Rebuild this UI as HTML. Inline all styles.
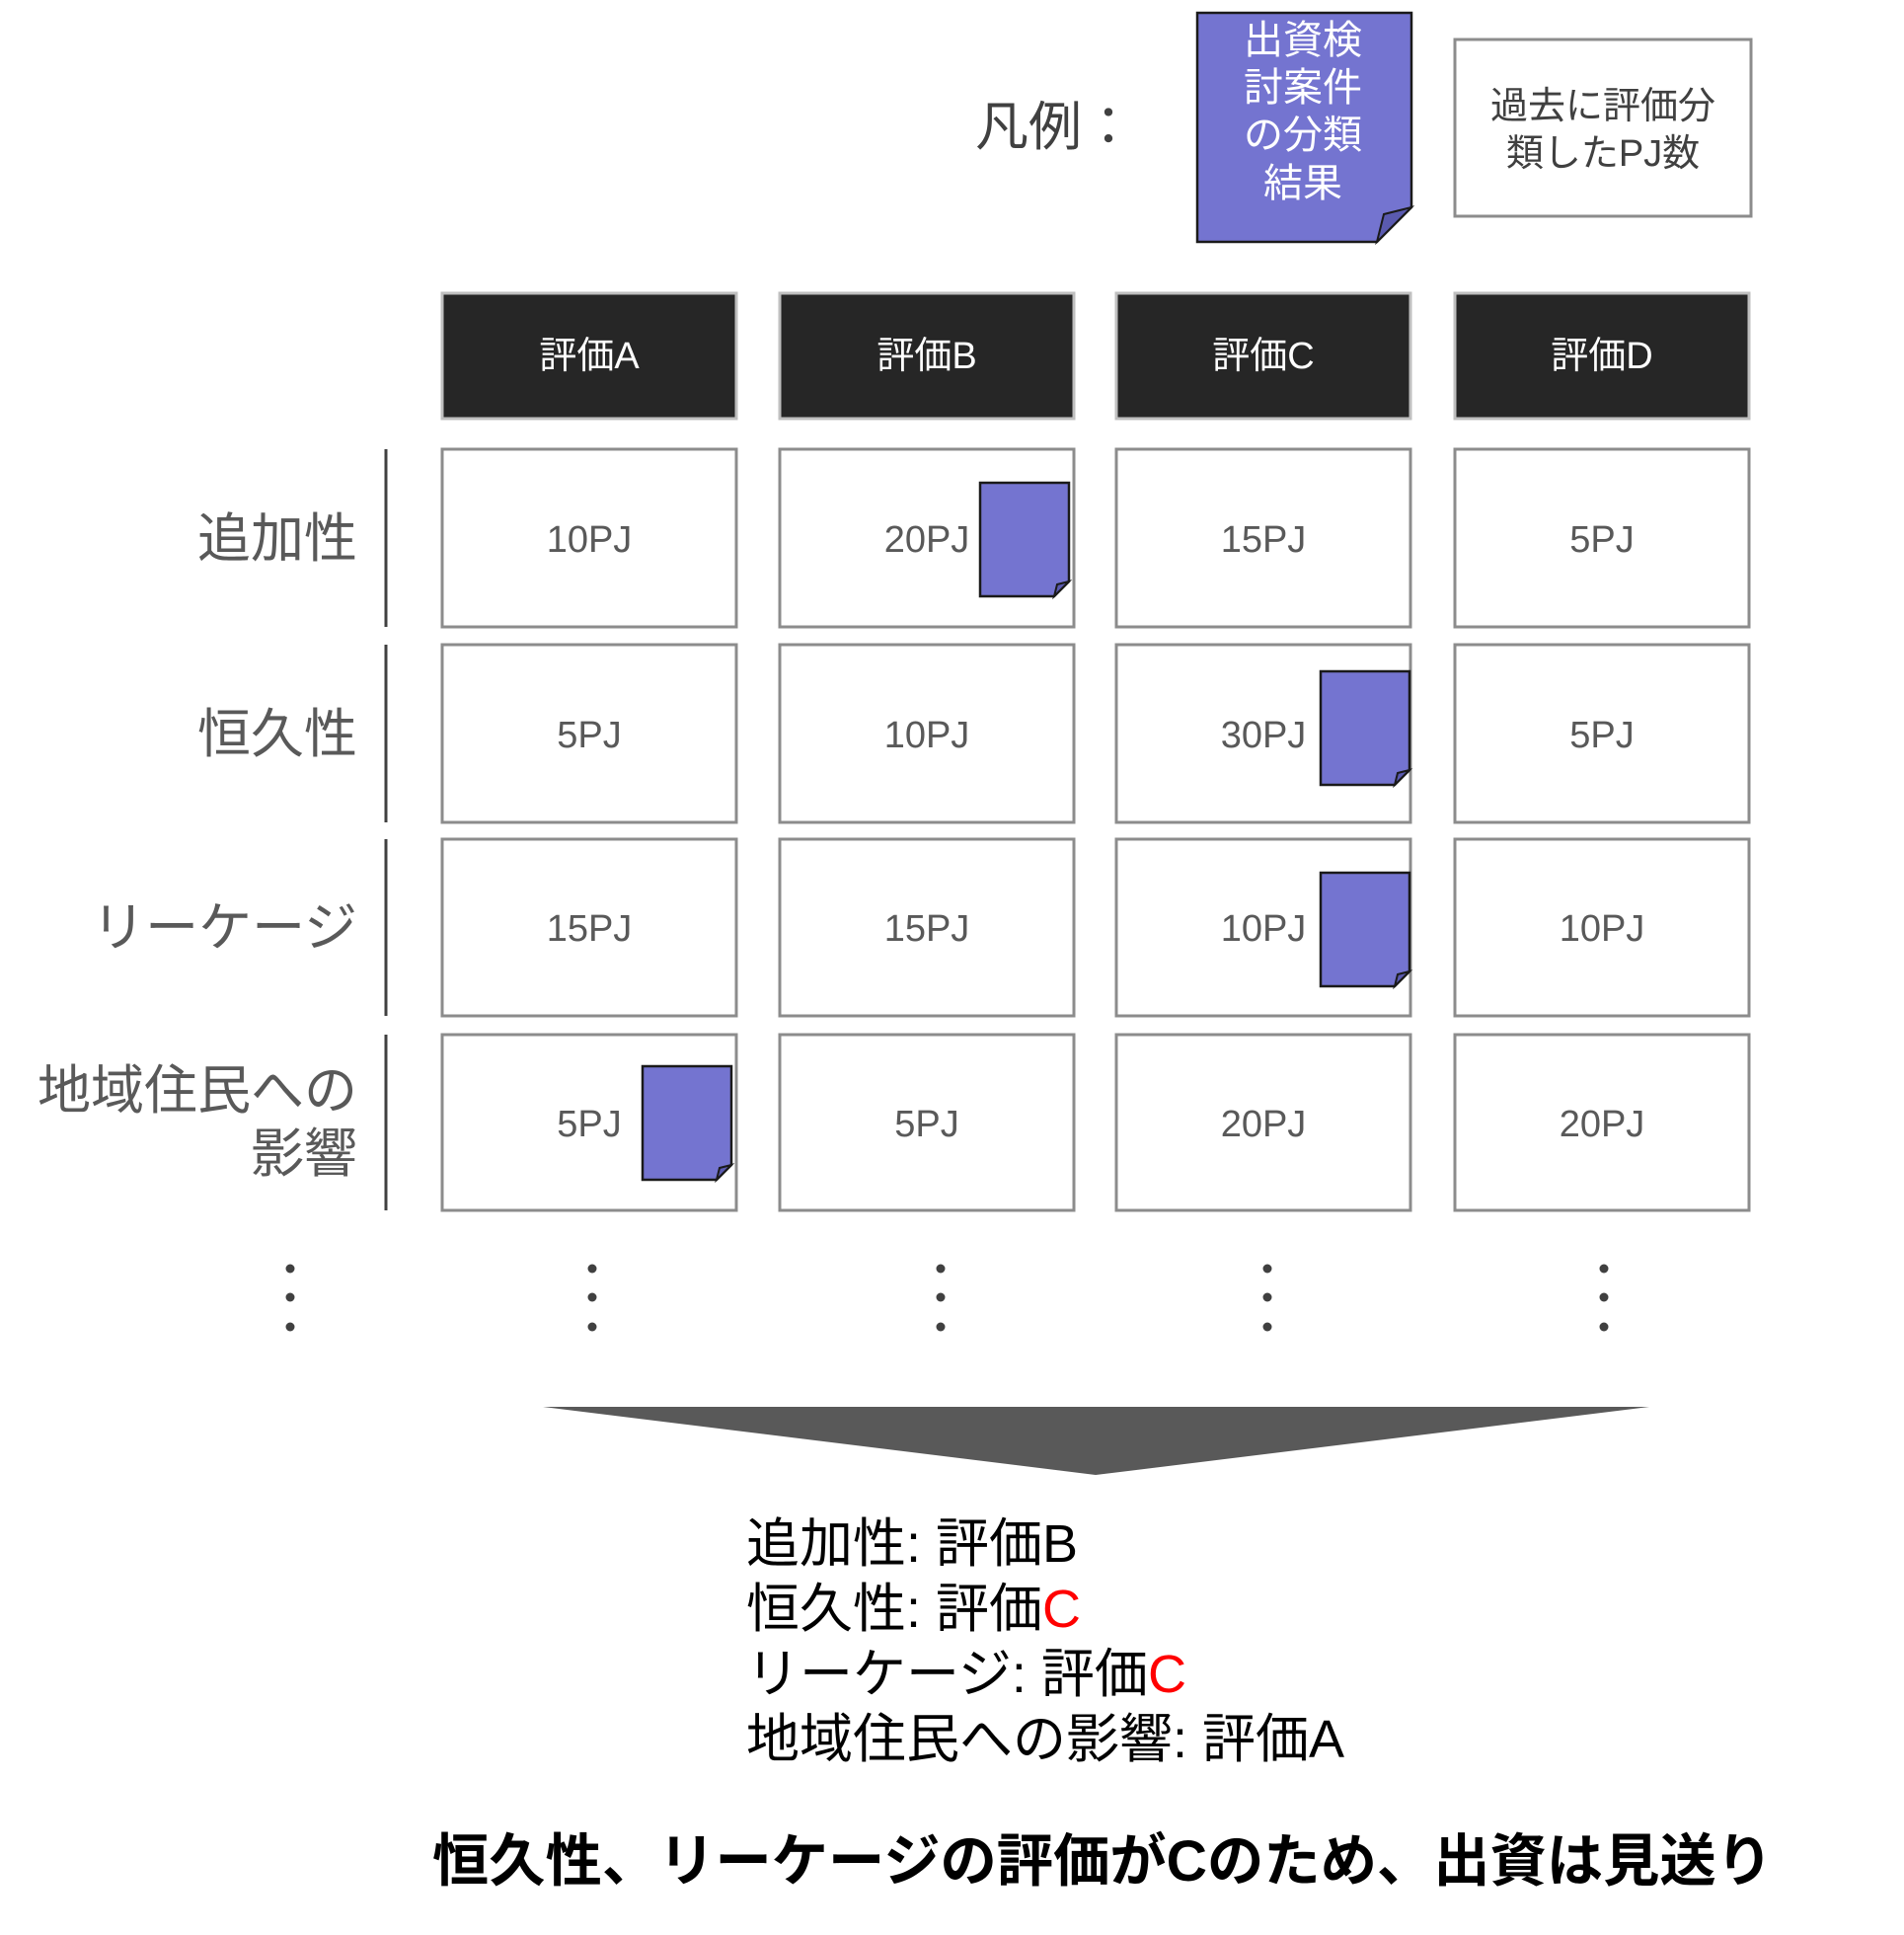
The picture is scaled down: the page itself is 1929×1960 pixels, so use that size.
<!DOCTYPE html>
<html><head><meta charset="utf-8"><style>
html,body{margin:0;padding:0;background:#fff;}
svg{display:block}
text{font-family:"Liberation Sans","Noto Sans CJK JP",sans-serif;}
</style></head><body>
<svg width="1929" height="1960" viewBox="0 0 1929 1960" xmlns="http://www.w3.org/2000/svg">
<defs>
<g id="doc">
<path d="M0,0 H90 V100 L75,115 H0 Z" fill="#7474D0" stroke="#1a1a1a" stroke-width="2.5"/>
<path d="M75,115 L78,103 L90,100 Z" fill="#5a5ab0" stroke="#1a1a1a" stroke-width="2"/>
</g>
</defs>
<!-- legend -->
<text x="988" y="147" font-size="54" fill="#404040">凡例：</text>
<path d="M1213,13 H1430 V210 L1395,245 H1213 Z" fill="#7474D0" stroke="#1a1a1a" stroke-width="2.5"/>
<path d="M1395,245 L1402,217 L1430,210 Z" fill="#5a5ab0" stroke="#1a1a1a" stroke-width="2"/>
<g fill="#fff" font-size="40" text-anchor="middle">
<text x="1320" y="54">出資検</text>
<text x="1320" y="102">討案件</text>
<text x="1320" y="150">の分類</text>
<text x="1320" y="199">結果</text>
</g>
<rect x="1474" y="40" width="300" height="179" fill="#fff" stroke="#8c8c8c" stroke-width="3"/>
<g fill="#404040" font-size="38" text-anchor="middle">
<text x="1624" y="120">過去に評価分</text>
<text x="1624" y="168">類したPJ数</text>
</g>
<!-- headers -->
<g fill="#262626" stroke="#bfbfbf" stroke-width="3">
<rect x="448" y="297" width="298" height="127"/>
<rect x="790" y="297" width="298" height="127"/>
<rect x="1131" y="297" width="298" height="127"/>
<rect x="1474" y="297" width="298" height="127"/>
</g>
<g fill="#fff" font-size="38" text-anchor="middle">
<text x="597" y="373">評価A</text>
<text x="939" y="373">評価B</text>
<text x="1280" y="373">評価C</text>
<text x="1623" y="373">評価D</text>
</g>
<!-- cells -->
<g fill="#fff" stroke="#8c8c8c" stroke-width="3">
<rect x="448" y="455" width="298" height="180"/><rect x="790" y="455" width="298" height="180"/><rect x="1131" y="455" width="298" height="180"/><rect x="1474" y="455" width="298" height="180"/>
<rect x="448" y="653" width="298" height="180"/><rect x="790" y="653" width="298" height="180"/><rect x="1131" y="653" width="298" height="180"/><rect x="1474" y="653" width="298" height="180"/>
<rect x="448" y="850" width="298" height="179"/><rect x="790" y="850" width="298" height="179"/><rect x="1131" y="850" width="298" height="179"/><rect x="1474" y="850" width="298" height="179"/>
<rect x="448" y="1048" width="298" height="178"/><rect x="790" y="1048" width="298" height="178"/><rect x="1131" y="1048" width="298" height="178"/><rect x="1474" y="1048" width="298" height="178"/>
</g>
<g fill="#595959" font-size="38" text-anchor="middle">
<text x="597" y="559">10PJ</text><text x="939" y="559">20PJ</text><text x="1280" y="559">15PJ</text><text x="1623" y="559">5PJ</text>
<text x="597" y="757">5PJ</text><text x="939" y="757">10PJ</text><text x="1280" y="757">30PJ</text><text x="1623" y="757">5PJ</text>
<text x="597" y="953">15PJ</text><text x="939" y="953">15PJ</text><text x="1280" y="953">10PJ</text><text x="1623" y="953">10PJ</text>
<text x="597" y="1151">5PJ</text><text x="939" y="1151">5PJ</text><text x="1280" y="1151">20PJ</text><text x="1623" y="1151">20PJ</text>
</g>
<use href="#doc" x="993" y="489"/>
<use href="#doc" x="1338" y="680"/>
<use href="#doc" x="1338" y="884"/>
<use href="#doc" x="651" y="1080"/>
<!-- row labels -->
<g stroke="#404040" stroke-width="3">
<line x1="391" y1="455" x2="391" y2="635"/>
<line x1="391" y1="653" x2="391" y2="833"/>
<line x1="391" y1="850" x2="391" y2="1029"/>
<line x1="391" y1="1048" x2="391" y2="1226"/>
</g>
<g fill="#595959" font-size="54" text-anchor="end">
<text x="362" y="564">追加性</text>
<text x="362" y="762">恒久性</text>
<text x="362" y="958">リーケージ</text>
<text x="362" y="1123">地域住民への</text>
<text x="362" y="1187">影響</text>
</g>
<!-- dots -->
<g fill="#404040">
<circle cx="294" cy="1285" r="4.5"/><circle cx="294" cy="1314" r="4.5"/><circle cx="294" cy="1344" r="4.5"/>
<circle cx="600" cy="1285" r="4.5"/><circle cx="600" cy="1314" r="4.5"/><circle cx="600" cy="1344" r="4.5"/>
<circle cx="953" cy="1285" r="4.5"/><circle cx="953" cy="1314" r="4.5"/><circle cx="953" cy="1344" r="4.5"/>
<circle cx="1284" cy="1285" r="4.5"/><circle cx="1284" cy="1314" r="4.5"/><circle cx="1284" cy="1344" r="4.5"/>
<circle cx="1625" cy="1285" r="4.5"/><circle cx="1625" cy="1314" r="4.5"/><circle cx="1625" cy="1344" r="4.5"/>
</g>
<!-- arrow -->
<polygon points="550,1425 1671,1425 1110,1494" fill="#595959"/>
<!-- summary -->
<g fill="#000" font-size="54">
<text x="756" y="1582">追加性: 評価B</text>
<text x="756" y="1648">恒久性: 評価<tspan fill="#ff0000">C</tspan></text>
<text x="756" y="1714">リーケージ: 評価<tspan fill="#ff0000">C</tspan></text>
<text x="756" y="1780">地域住民への影響: 評価A</text>
</g>
<text x="438" y="1905" font-size="58" font-weight="bold" fill="#000" textLength="1358" lengthAdjust="spacingAndGlyphs">恒久性、リーケージの評価がCのため、出資は見送り</text>
</svg>
</body></html>
